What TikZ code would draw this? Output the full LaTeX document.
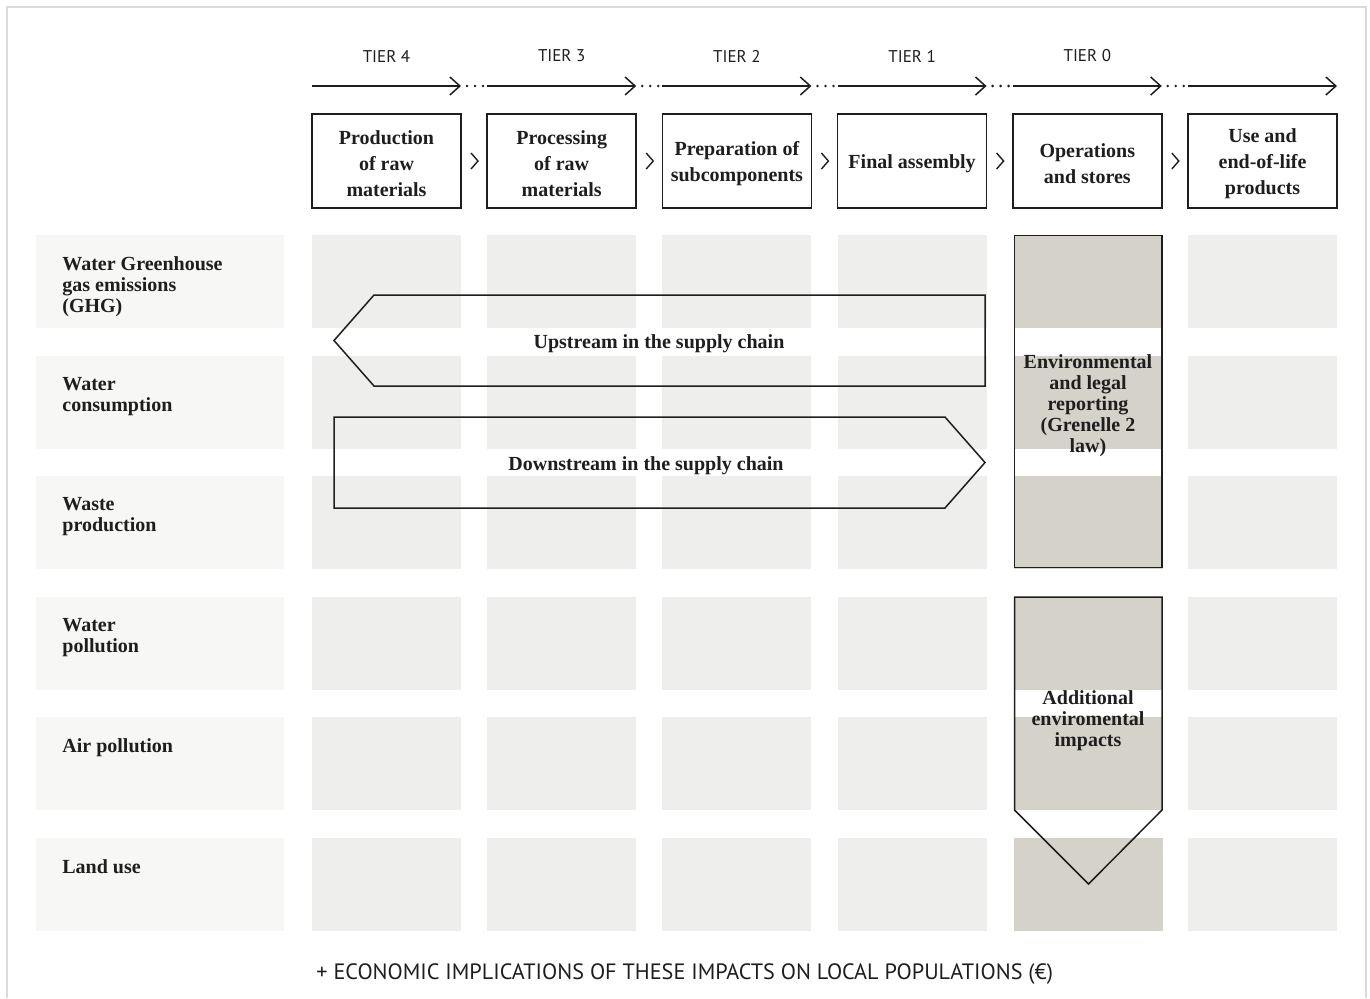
\documentclass[tikz,border=0pt]{standalone}
\usepackage{fontspec}
\setmainfont{Liberation Serif}
\newfontfamily\tierfont{PT Sans}
\usetikzlibrary{arrows.meta, calc}
\definecolor{labelgray}{HTML}{F7F7F5}
\definecolor{cellgray}{HTML}{EEEEEC}
\definecolor{tierbeige}{HTML}{D5D2CA}
\definecolor{framegray}{HTML}{DCDBD5}
\definecolor{inkblack}{HTML}{1E1E1E}

\tikzset{
    stagebox/.style={rectangle,draw=inkblack,line width=0.8pt,minimum width=74.5pt,minimum height=47pt},
    stagetext/.style={align=center,inner sep=0pt,yshift=-1.2pt,font=\bfseries\fontsize{10}{13}\selectfont,text=inkblack},
    rowlabel/.style={anchor=north west,align=left,inner sep=0pt,font=\bfseries\fontsize{10}{10.5}\selectfont,text=inkblack},
    tierlabel/.style={font=\tierfont\fontsize{8.5}{10}\selectfont,text=inkblack},
    flowtext/.style={align=center,inner sep=0pt,yshift=-1.5pt,font=\bfseries\fontsize{10}{10.5}\selectfont,text=inkblack},
    flowshape/.style={draw=inkblack,line width=0.75pt,line join=miter},
    tierarrow/.style={draw=inkblack,line width=0.75pt,-{Straight Barb[length=5pt,width=9pt]}},
}

\begin{document}
\begin{tikzpicture}[x=0.5pt,y=-0.5pt]
    \useasboundingbox (0,0) rectangle (1370,998);
    % Cornice
    \draw[framegray,line width=1pt] (7,998) -- (7,7) -- (1366,7) -- (1366,998);

    % Celle
    \foreach \r in {0,...,5}{
        \fill[labelgray] (36,235+120.6*\r) rectangle +(248,93);
        \foreach \c in {0,1,2,3,5}{
            \fill[cellgray] (312+175.2*\c,235+120.6*\r) rectangle +(149,93);
        }
        \fill[tierbeige] (1013.5,235+120.6*\r) rectangle +(149,93);
    }

    % Tier e frecce in alto
    \foreach \c/\lab in {0/TIER 4,1/TIER 3,2/TIER 2,3/TIER 1,4/TIER 0}{
        \node[tierlabel] (tier\c) at (386.5+175.2*\c,56) {\lab};
    }
    \foreach \c in {0,...,5}{
        \coordinate (arrS\c) at (312+175.2*\c,86);
        \coordinate (arrE\c) at (461+175.2*\c,86);
        \draw[tierarrow] (arrS\c) -- (arrE\c);
    }
    \foreach \c in {0,...,4}{
        \coordinate (dotS\c) at (467+175.2*\c,86);
        \coordinate (dotE\c) at (484+175.2*\c,86);
        \draw[inkblack,line width=1.4pt,line cap=round,dash pattern=on 0pt off 4pt] (dotS\c) -- (dotE\c);
    }

    % Fasi della filiera
    \foreach \c/\txt in {0/{Production\\of raw\\materials},1/{Processing\\of raw\\materials},2/{Preparation of\\subcomponents},3/{Final assembly},4/{Operations\\and stores},5/{Use and\\end-of-life\\products}}{
        \node[stagebox] (stage\c) at (386.5+175.2*\c,161) {};
        \node[stagetext] (stagetext\c) at (stage\c) {\txt};
    }
    \foreach \c in {0,...,4}{
        \coordinate (gap\c) at (474.5+175.2*\c,161);
        \draw[inkblack,line width=0.7pt] ($(gap\c)+(-3.5,-8)$) -- ($(gap\c)+(3.5,0)$) -- ($(gap\c)+(-3.5,8)$);
    }

    % Etichette delle righe
    \node[rowlabel] (ghg) at (62,256) {Water Greenhouse\\gas emissions\\(GHG)};
    \node[rowlabel] (water) at (62,376.6) {Water\\consumption};
    \node[rowlabel] (waste) at (62,497.2) {Waste\\production};
    \node[rowlabel] (wpoll) at (62,617.8) {Water\\pollution};
    \node[rowlabel] (apoll) at (62,738.4) {Air pollution};
    \node[rowlabel] (land) at (62,859) {Land use};

    % Upstream / Downstream
    \draw[flowshape] (985,295) -- (374,295) -- (334,340.5) -- (374,386) -- (985,386) -- cycle;
    \node[flowtext] (upstream) at (659,341) {Upstream in the supply chain};
    \draw[flowshape] (334,417) -- (945,417) -- (985,462.5) -- (945,508) -- (334,508) -- cycle;
    \node[flowtext] (downstream) at (646,463) {Downstream in the supply chain};

    % Tier 0
    \draw[flowshape] (1014.5,235.5) rectangle (1162,567.5);
    \node[flowtext] (report) at (1088,403) {Environmental\\and legal\\reporting\\(Grenelle 2\\law)};
    \draw[flowshape] (1014.5,597) -- (1014.5,810) -- (1088.5,884) -- (1162,810) -- (1162,597) -- cycle;
    \node[flowtext] (impacts) at (1088,718) {Additional\\enviromental\\impacts};

    % Nota in basso
    \node[tierlabel,anchor=west,font=\tierfont\fontsize{11.1}{13}\selectfont,inner sep=0pt] (economic) at (316,974) {+ ECONOMIC IMPLICATIONS OF THESE IMPACTS ON LOCAL POPULATIONS (€)};
\end{tikzpicture}
\end{document}
